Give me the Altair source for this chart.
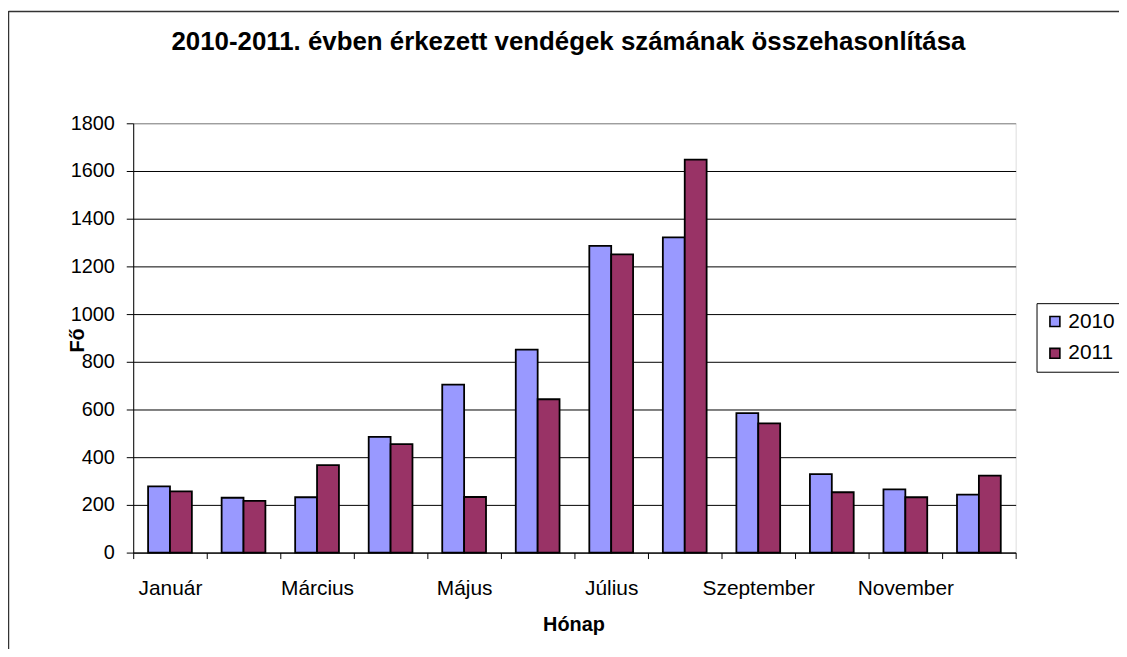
import json
import altair as alt
import pandas as pd

months = ["Január", "Február", "Március", "Április", "Május", "Június",
          "Július", "Augusztus", "Szeptember", "Október", "November", "December"]
v2010 = [278, 230, 232, 485, 704, 851, 1286, 1322, 585, 329, 265, 243]
v2011 = [257, 217, 367, 455, 233, 643, 1250, 1648, 542, 253, 232, 323]
years = ["2010", "2011"]
y_ticks = [0, 200, 400, 600, 800, 1000, 1200, 1400, 1600, 1800]
shown_labels = months[::2]

rows = []
for m, a, b in zip(months, v2010, v2011):
    rows.append({"month": m, "year": "2010", "value": a})
    rows.append({"month": m, "year": "2011", "value": b})
df = pd.DataFrame(rows)

label_expr = ("indexof(" + json.dumps(shown_labels, ensure_ascii=False)
              + ", datum.value) >= 0 ? datum.label : ''")

FONT = "Liberation Sans"

bars = alt.Chart(df).mark_bar(stroke="black", strokeWidth=1.8).encode(
    x=alt.X("month:N", sort=months,
            scale=alt.Scale(paddingInner=0, paddingOuter=0),
            axis=alt.Axis(title="Hónap", labelExpr=label_expr, tickBand="extent",
                          grid=False, labelAngle=0, domainColor="black",
                          tickColor="black", tickSize=6, labelPadding=19,
                          labelFontSize=21, labelColor="black", labelFont=FONT,
                          titleFont=FONT, titleFontSize=20, titleFontWeight="bold",
                          titleColor="black", titleX=443, titleY=72,
                          titleBaseline="middle", titleAlign="center")),
    xOffset=alt.XOffset("year:N", sort=years,
                        scale=alt.Scale(paddingOuter=0.68, paddingInner=0)),
    y=alt.Y("value:Q", scale=alt.Scale(domain=[0, 1800], nice=False),
            axis=alt.Axis(title="Fő", values=y_ticks, format="d", grid=True,
                          gridColor={"condition": {"test": "datum.value === 1800", "value": "#808080"},
                                     "value": "black"},
                          gridOpacity=1, domainColor="black", tickColor="black",
                          tickSize=7, labelPadding=12, labelFontSize=20,
                          labelColor="black", labelFont=FONT,
                          titleFont=FONT, titleFontSize=20, titleFontWeight="bold",
                          titleColor="black", titleX=-56, titleY=218, titleAngle=270,
                          titleBaseline="middle", titleAlign="center")),
    color=alt.Color("year:N", sort=years,
                    scale=alt.Scale(domain=years, range=["#9999FF", "#993366"]),
                    legend=alt.Legend(title=None, orient="none", legendX=909, legendY=181,
                                      strokeColor="black", fillColor="white",
                                      padding=8, labelFontSize=21, labelFont=FONT,
                                      labelColor="black", symbolType="square",
                                      symbolSize=100, symbolStrokeColor="black",
                                      symbolStrokeWidth=1.6, labelOffset=3,
                                      rowPadding=10)),
)

frame = alt.Chart(alt.Data(values=[{}])).mark_rule(color="#333333", strokeWidth=1.5).encode(
    x=alt.value(-125.5), y=alt.value(-113), y2=alt.value(560)
)
frame_top = alt.Chart(alt.Data(values=[{}])).mark_rule(color="#333333", strokeWidth=1.5).encode(
    x=alt.value(-125.5), x2=alt.value(1000), y=alt.value(-112.5)
)

chart = alt.layer(bars, frame, frame_top).properties(
    width=888, height=432,
    padding={"left": 126, "top": 114, "right": 104, "bottom": 95},
    autosize=alt.AutoSizeParams(type="none"),
    title=alt.TitleParams("2010-2011. évben érkezett vendégek számának összehasonlítása",
                          font=FONT, fontSize=26, fontWeight="bold", color="black",
                          anchor="middle", frame="group", dx=-6, offset=0, dy=66,
                          baseline="alphabetic"),
).configure_view(fill="#C0C0C0", stroke="#808080", strokeWidth=1.5
).configure(background="white")

chart.save("out.html", embed_options={"renderer": "svg", "actions": False})
